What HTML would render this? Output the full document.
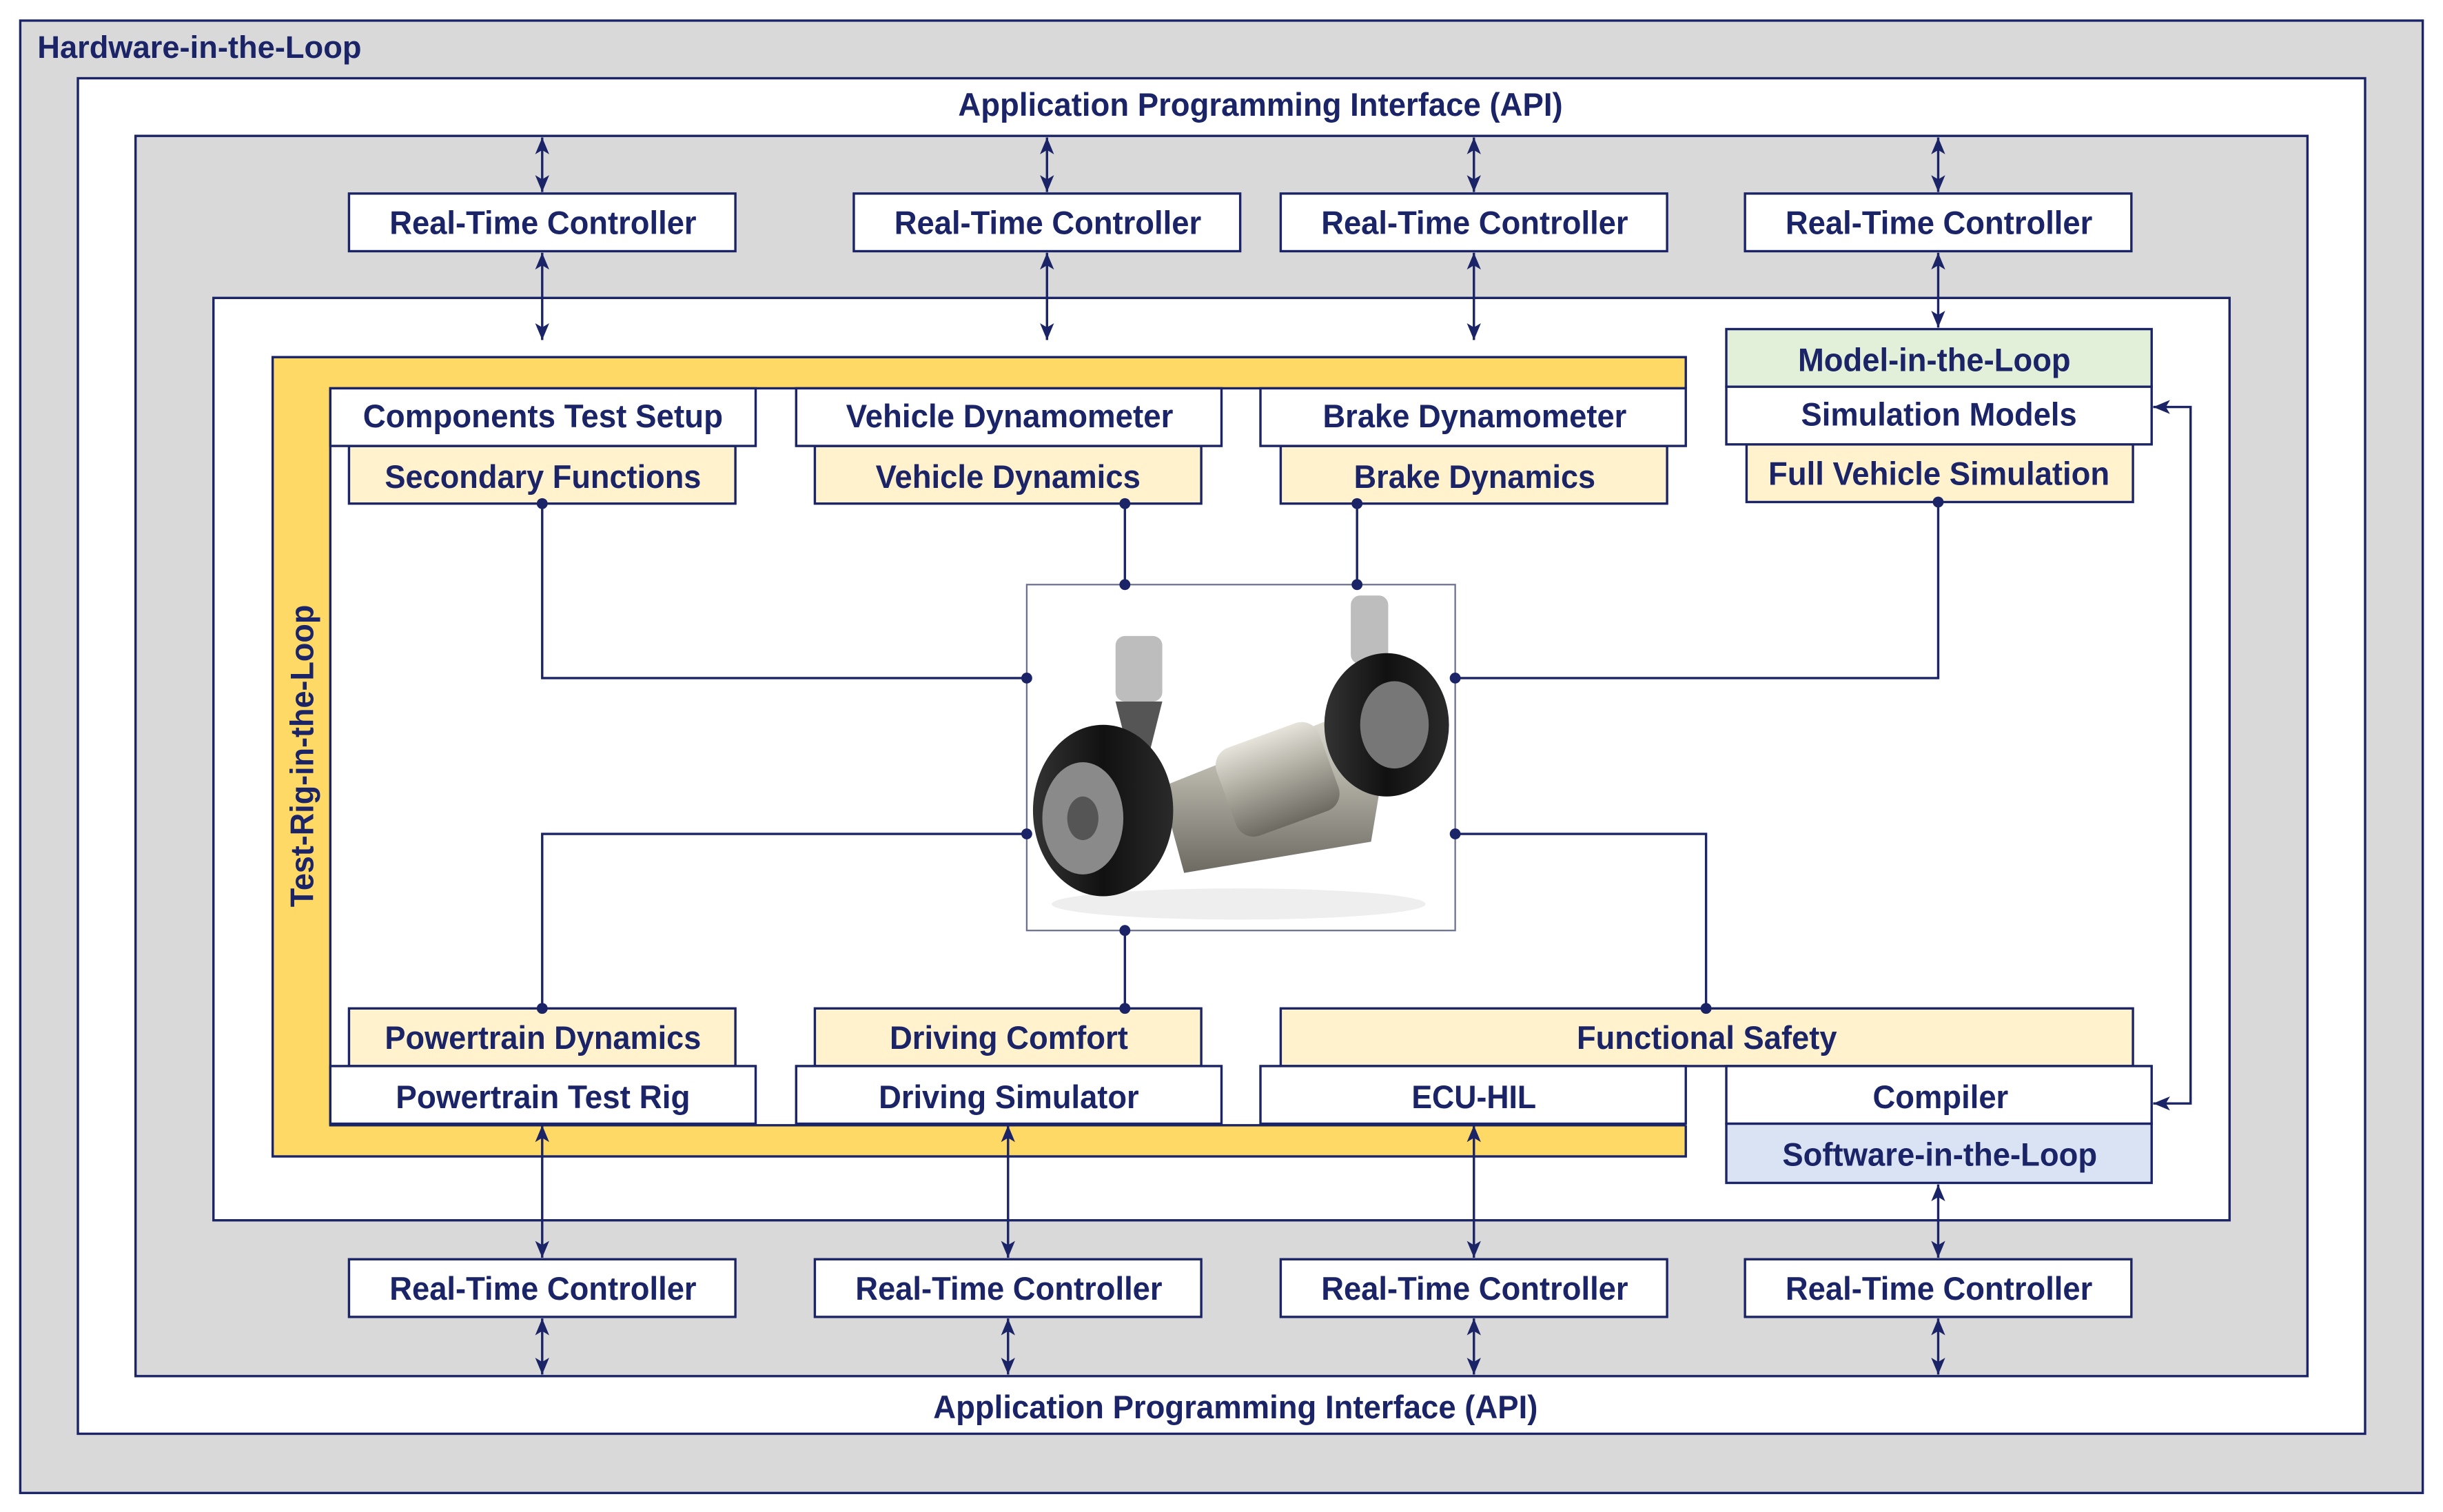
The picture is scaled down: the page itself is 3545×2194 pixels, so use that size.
<!DOCTYPE html>
<html><head><meta charset="utf-8"><style>html,body{margin:0;padding:0;background:#fff}svg{display:block}</style></head>
<body>
<svg width="3545" height="2194" viewBox="0 0 1568 970" xmlns="http://www.w3.org/2000/svg" font-family="'Liberation Sans Narrow','Liberation Sans',sans-serif" font-weight="bold" fill="#1a2466">
<defs>
<marker id="a" viewBox="0 0 12 10" refX="12" refY="5" markerWidth="12" markerHeight="9" orient="auto-start-reverse" markerUnits="userSpaceOnUse"><path d="M0,0 L12,5 L0,10 L3,5 z" fill="#1a2466"/></marker>
<linearGradient id="tire" x1="0" x2="1"><stop offset="0" stop-color="#333"/><stop offset="0.5" stop-color="#111"/><stop offset="1" stop-color="#2a2a2a"/></linearGradient>
<linearGradient id="met" x1="0" y1="0" x2="0" y2="1"><stop offset="0" stop-color="#e6e3da"/><stop offset="0.5" stop-color="#a9a69c"/><stop offset="1" stop-color="#6d6a62"/></linearGradient>
</defs>
<g stroke="#1a2466" stroke-width="1.5">
<rect x="13" y="13" width="1542" height="945" fill="#d9d9d9"/>
<rect x="50" y="50" width="1468" height="870" fill="#fff"/>
<rect x="87" y="87" width="1394" height="796" fill="#d9d9d9"/>
<rect x="137" y="191" width="1294" height="592" fill="#fff"/>
<rect x="175" y="229" width="907" height="513" fill="#ffd966"/>
<rect x="212" y="249" width="872" height="473" fill="#fff" stroke="none"/>
<polyline points="1082,249 212,249 212,722 1082,722" fill="none"/>
</g>
<text x="24" y="37" font-size="20" textLength="208" lengthAdjust="spacingAndGlyphs">Hardware-in-the-Loop</text>
<text x="615" y="74" font-size="21" textLength="388" lengthAdjust="spacingAndGlyphs">Application Programming Interface (API)</text>
<text x="599" y="910" font-size="21" textLength="388" lengthAdjust="spacingAndGlyphs">Application Programming Interface (API)</text>
<text transform="translate(201,582) rotate(-90)" font-size="21" textLength="194" lengthAdjust="spacingAndGlyphs">Test-Rig-in-the-Loop</text>

<g stroke="#1a2466" stroke-width="1.5" fill="none">
<line x1="348" y1="88" x2="348" y2="123" marker-start="url(#a)" marker-end="url(#a)"/>
<line x1="672" y1="88" x2="672" y2="123" marker-start="url(#a)" marker-end="url(#a)"/>
<line x1="946" y1="88" x2="946" y2="123" marker-start="url(#a)" marker-end="url(#a)"/>
<line x1="1244" y1="88" x2="1244" y2="123" marker-start="url(#a)" marker-end="url(#a)"/>
<line x1="348" y1="162" x2="348" y2="218" marker-start="url(#a)" marker-end="url(#a)"/>
<line x1="672" y1="162" x2="672" y2="218" marker-start="url(#a)" marker-end="url(#a)"/>
<line x1="946" y1="162" x2="946" y2="218" marker-start="url(#a)" marker-end="url(#a)"/>
<line x1="1244" y1="162" x2="1244" y2="210" marker-start="url(#a)" marker-end="url(#a)"/>
<line x1="348" y1="722" x2="348" y2="807" marker-start="url(#a)" marker-end="url(#a)"/>
<line x1="647" y1="722" x2="647" y2="807" marker-start="url(#a)" marker-end="url(#a)"/>
<line x1="946" y1="722" x2="946" y2="807" marker-start="url(#a)" marker-end="url(#a)"/>
<line x1="1244" y1="760" x2="1244" y2="807" marker-start="url(#a)" marker-end="url(#a)"/>
<line x1="348" y1="846" x2="348" y2="882" marker-start="url(#a)" marker-end="url(#a)"/>
<line x1="647" y1="846" x2="647" y2="882" marker-start="url(#a)" marker-end="url(#a)"/>
<line x1="946" y1="846" x2="946" y2="882" marker-start="url(#a)" marker-end="url(#a)"/>
<line x1="1244" y1="846" x2="1244" y2="882" marker-start="url(#a)" marker-end="url(#a)"/>
<polyline points="348,323 348,435 659,435"/>
<line x1="722" y1="323" x2="722" y2="375"/>
<line x1="871" y1="323" x2="871" y2="375"/>
<polyline points="1244,322 1244,435 934,435"/>
<polyline points="659,535 348,535 348,647"/>
<line x1="722" y1="597" x2="722" y2="647"/>
<polyline points="934,535 1095,535 1095,647"/>
<polyline points="1382,261 1406,261 1406,708 1382,708" marker-start="url(#a)" marker-end="url(#a)"/>
</g>

<g stroke="#1a2466" stroke-width="1.5">
<rect x="224" y="124" width="248" height="37" fill="#fff"/>
<rect x="548" y="124" width="248" height="37" fill="#fff"/>
<rect x="822" y="124" width="248" height="37" fill="#fff"/>
<rect x="1120" y="124" width="248" height="37" fill="#fff"/>
<rect x="224" y="808" width="248" height="37" fill="#fff"/>
<rect x="523" y="808" width="248" height="37" fill="#fff"/>
<rect x="822" y="808" width="248" height="37" fill="#fff"/>
<rect x="1120" y="808" width="248" height="37" fill="#fff"/>
<rect x="224" y="286" width="248" height="37" fill="#fff2cc"/>
<rect x="523" y="286" width="248" height="37" fill="#fff2cc"/>
<rect x="822" y="286" width="248" height="37" fill="#fff2cc"/>
<rect x="1121" y="285" width="248" height="37" fill="#fff2cc"/>
<rect x="212" y="249" width="273" height="37" fill="#fff"/>
<rect x="511" y="249" width="273" height="37" fill="#fff"/>
<rect x="809" y="249" width="273" height="37" fill="#fff"/>
<rect x="1108" y="211" width="273" height="37" fill="#e2efd9"/>
<rect x="1108" y="248" width="273" height="37" fill="#fff"/>
<rect x="224" y="647" width="248" height="37" fill="#fff2cc"/>
<rect x="523" y="647" width="248" height="37" fill="#fff2cc"/>
<rect x="822" y="647" width="547" height="37" fill="#fff2cc"/>
<rect x="212" y="684" width="273" height="37" fill="#fff"/>
<rect x="511" y="684" width="273" height="37" fill="#fff"/>
<rect x="809" y="684" width="273" height="37" fill="#fff"/>
<rect x="1108" y="684" width="273" height="37" fill="#fff"/>
<rect x="1108" y="721" width="273" height="38" fill="#dae3f3"/>
<rect x="659" y="375" width="275" height="222" fill="#fff" stroke="#6b7090" stroke-width="1"/>
</g>

<g>
<ellipse cx="795" cy="580" rx="120" ry="10" fill="#eee"/>
<rect x="716" y="408" width="30" height="42" rx="6" fill="#bdbdbd"/>
<path d="M716,450 L746,450 L736,490 L726,490 z" fill="#555"/>
<rect x="867" y="382" width="24" height="44" rx="6" fill="#bdbdbd"/>
<path d="M745,505 L870,455 L890,480 L880,540 L760,560 z" fill="url(#met)"/>
<rect x="785" y="470" width="70" height="60" rx="12" fill="url(#met)" transform="rotate(-20 820 500)"/>
<ellipse cx="890" cy="465" rx="40" ry="46" fill="url(#tire)"/>
<ellipse cx="895" cy="465" rx="22" ry="28" fill="#777"/>
<ellipse cx="708" cy="520" rx="45" ry="55" fill="url(#tire)"/>
<ellipse cx="695" cy="525" rx="26" ry="36" fill="#8a8a8a"/>
<ellipse cx="695" cy="525" rx="10" ry="14" fill="#555"/>
</g>

<g fill="#1a2466">
<circle cx="348" cy="323" r="3.5"/><circle cx="659" cy="435" r="3.5"/>
<circle cx="722" cy="323" r="3.5"/><circle cx="722" cy="375" r="3.5"/>
<circle cx="871" cy="323" r="3.5"/><circle cx="871" cy="375" r="3.5"/>
<circle cx="1244" cy="322" r="3.5"/><circle cx="934" cy="435" r="3.5"/>
<circle cx="659" cy="535" r="3.5"/><circle cx="348" cy="647" r="3.5"/>
<circle cx="722" cy="597" r="3.5"/><circle cx="722" cy="647" r="3.5"/>
<circle cx="934" cy="535" r="3.5"/><circle cx="1095" cy="647" r="3.5"/>
</g>

<g font-size="21">
<text x="250" y="150" textLength="197" lengthAdjust="spacingAndGlyphs">Real-Time Controller</text>
<text x="574" y="150" textLength="197" lengthAdjust="spacingAndGlyphs">Real-Time Controller</text>
<text x="848" y="150" textLength="197" lengthAdjust="spacingAndGlyphs">Real-Time Controller</text>
<text x="1146" y="150" textLength="197" lengthAdjust="spacingAndGlyphs">Real-Time Controller</text>
<text x="250" y="834" textLength="197" lengthAdjust="spacingAndGlyphs">Real-Time Controller</text>
<text x="549" y="834" textLength="197" lengthAdjust="spacingAndGlyphs">Real-Time Controller</text>
<text x="848" y="834" textLength="197" lengthAdjust="spacingAndGlyphs">Real-Time Controller</text>
<text x="1146" y="834" textLength="197" lengthAdjust="spacingAndGlyphs">Real-Time Controller</text>
<text x="233" y="274" textLength="231" lengthAdjust="spacingAndGlyphs">Components Test Setup</text>
<text x="247" y="313" textLength="203" lengthAdjust="spacingAndGlyphs">Secondary Functions</text>
<text x="543" y="274" textLength="210" lengthAdjust="spacingAndGlyphs">Vehicle Dynamometer</text>
<text x="562" y="313" textLength="170" lengthAdjust="spacingAndGlyphs">Vehicle Dynamics</text>
<text x="849" y="274" textLength="195" lengthAdjust="spacingAndGlyphs">Brake Dynamometer</text>
<text x="869" y="313" textLength="155" lengthAdjust="spacingAndGlyphs">Brake Dynamics</text>
<text x="1154" y="238" textLength="175" lengthAdjust="spacingAndGlyphs">Model-in-the-Loop</text>
<text x="1156" y="273" textLength="177" lengthAdjust="spacingAndGlyphs">Simulation Models</text>
<text x="1135" y="311" textLength="219" lengthAdjust="spacingAndGlyphs">Full Vehicle Simulation</text>
<text x="247" y="673" textLength="203" lengthAdjust="spacingAndGlyphs">Powertrain Dynamics</text>
<text x="254" y="711" textLength="189" lengthAdjust="spacingAndGlyphs">Powertrain Test Rig</text>
<text x="571" y="673" textLength="153" lengthAdjust="spacingAndGlyphs">Driving Comfort</text>
<text x="564" y="711" textLength="167" lengthAdjust="spacingAndGlyphs">Driving Simulator</text>
<text x="1012" y="673" textLength="167" lengthAdjust="spacingAndGlyphs">Functional Safety</text>
<text x="906" y="711" textLength="80" lengthAdjust="spacingAndGlyphs">ECU-HIL</text>
<text x="1202" y="711" textLength="87" lengthAdjust="spacingAndGlyphs">Compiler</text>
<text x="1144" y="748" textLength="202" lengthAdjust="spacingAndGlyphs">Software-in-the-Loop</text>
</g>
</svg>
</body></html>
